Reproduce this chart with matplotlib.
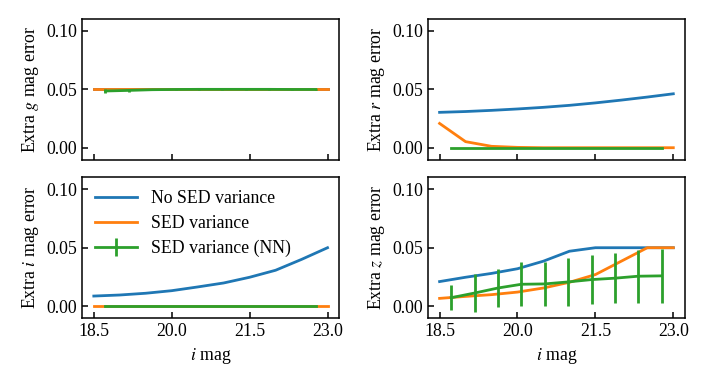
import numpy as np
import matplotlib
matplotlib.use('Agg')
import matplotlib.pyplot as plt

plt.rcParams['font.family'] = ['Liberation Serif', 'DejaVu Serif']
plt.rcParams['mathtext.fontset'] = 'stix'
plt.rcParams['font.size'] = 12.8
plt.rcParams['axes.linewidth'] = 1.1

# ── Du lieu (doc tu hinh) ─────────────────────────────
imag = [18.5, 19.0, 19.5, 20.0, 20.5, 21.0, 21.5, 22.0, 22.5, 23.0]
imag_nn = [18.725, 19.175, 19.625, 20.075, 20.525, 20.975, 21.425, 21.875, 22.325, 22.775]
bands = ['g', 'r', 'i', 'z']

no_sed = {
    'g': [0.05, 0.05, 0.05, 0.05, 0.05, 0.05, 0.05, 0.05, 0.05, 0.05],
    'r': [0.0303, 0.031, 0.032, 0.0332, 0.0346, 0.0363, 0.0384, 0.0408, 0.0434, 0.0462],
    'i': [0.0086, 0.0095, 0.011, 0.0132, 0.0164, 0.0198, 0.0247, 0.0307, 0.040, 0.050],
    'z': [0.021, 0.0247, 0.028, 0.032, 0.0385, 0.047, 0.05, 0.05, 0.05, 0.05],
}
sed = {
    'g': [0.05, 0.05, 0.05, 0.05, 0.05, 0.05, 0.05, 0.05, 0.05, 0.05],
    'r': [0.0208, 0.0052, 0.0012, 0.0003, 0.0, 0.0, 0.0, 0.0, 0.0, 0.0],
    'i': [0.0, 0.0, 0.0, 0.0, 0.0, 0.0, 0.0, 0.0, 0.0, 0.0],
    'z': [0.0066, 0.0083, 0.0098, 0.012, 0.0155, 0.0204, 0.027, 0.0385, 0.05, 0.05],
}
sed_nn = {
    'g': [0.0486, 0.0491, 0.0497, 0.0499, 0.05, 0.05, 0.05, 0.05, 0.0499, 0.0499],
    'r': [0.0, 0.0, 0.0, 0.0, 0.0, 0.0, 0.0, 0.0, 0.0, 0.0],
    'i': [0.0, 0.0, 0.0, 0.0, 0.0, 0.0, 0.0, 0.0, 0.0, 0.0],
    'z': [0.0072, 0.0112, 0.0155, 0.0187, 0.019, 0.0207, 0.0227, 0.0239, 0.0256, 0.0259],
}
sed_nn_err = {
    'g': [0.0015, 0.0012, 0.0006, 0.0003, 0.0002, 0.0002, 0.0002, 0.0003, 0.0005, 0.0004],
    'r': [0.0, 0.0, 0.0, 0.0, 0.0, 0.0, 0.0, 0.0, 0.0, 0.0],
    'i': [0.0, 0.0, 0.0, 0.0, 0.0, 0.0, 0.0, 0.0, 0.0, 0.0],
    'z': [0.0106, 0.016, 0.0167, 0.019, 0.019, 0.0204, 0.0208, 0.0216, 0.0227, 0.023],
}

# ── Ve hinh ─────────────────────────────────────────
fig, axes = plt.subplots(2, 2, figsize=(7.08, 3.87), dpi=100, sharex=True)
fig.subplots_adjust(left=0.116, right=0.9675, top=0.951, bottom=0.178,
                    wspace=0.345, hspace=0.125)

for ax, b in zip(axes.flat, bands):
    ax.plot(imag, no_sed[b], color='C0', lw=2, label='No SED variance')
    ax.plot(imag, sed[b], color='C1', lw=2, label='SED variance')
    ax.errorbar(imag_nn, sed_nn[b], yerr=sed_nn_err[b], color='C2', lw=2,
                elinewidth=2, label='SED variance (NN)')
    ax.set_ylim(-0.0103, 0.1103)
    ax.set_yticks([0.0, 0.05, 0.10])
    ax.set_xticks([18.5, 20.0, 21.5, 23.0])
    ax.set_ylabel(f'Extra ${b}$ mag error')
    ax.tick_params(direction='in', length=4, width=1.1)

for ax in axes[1]:
    ax.set_xlabel('$i$ mag')

axes[1, 0].legend(loc='upper left', frameon=False, handlelength=2.4,
                  borderaxespad=0.3, labelspacing=0.45)

plt.savefig('out.png', dpi=100)
